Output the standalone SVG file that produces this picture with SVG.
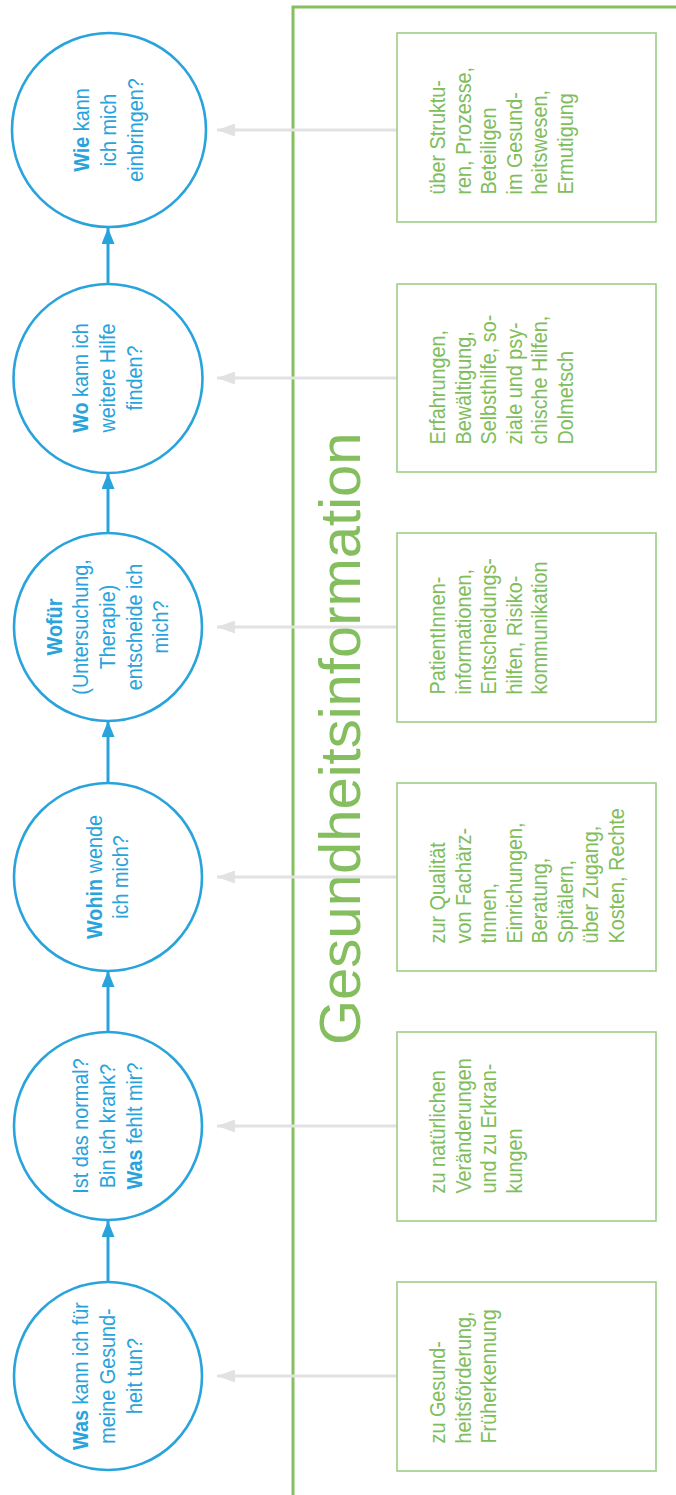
<svg xmlns="http://www.w3.org/2000/svg" width="676" height="1495" viewBox="0 0 676 1495">
<style>
.c{fill:#fff;stroke:#29a3dc;stroke-width:2.6}
.ct{font-family:"Liberation Sans",Arial,sans-serif;font-size:19.8px;fill:#29a3dc;text-anchor:middle}
.b{font-weight:bold}
.bx{fill:#fff;stroke:#9dcf86;stroke-width:1.6}
.bt{font-family:"Liberation Sans",Arial,sans-serif;font-size:19.8px;fill:#80bd5c}
.fl{stroke:#29a3dc;stroke-width:3;fill:none}
.gl{stroke:#e2e2e2;stroke-width:3;fill:none}
.title{font-family:"Liberation Sans",Arial,sans-serif;font-size:58px;fill:#84be5e}
</style>
<defs>
<marker id="ab" markerUnits="userSpaceOnUse" viewBox="0 0 16 13" refX="16" refY="6.5" markerWidth="16" markerHeight="13" orient="auto"><path d="M0,0 L16,6.5 L0,13 z" fill="#29a3dc"/></marker>
<marker id="ag" markerUnits="userSpaceOnUse" viewBox="0 0 18 13" refX="18" refY="6.5" markerWidth="18" markerHeight="13" orient="auto"><path d="M0,0 L18,6.5 L0,13 z" fill="#e2e2e2"/></marker>
</defs>
<rect width="676" height="1495" fill="#fff"/>

<g id="frame">
<path d="M293,1495 V7 H676" fill="none" stroke="#86bf5f" stroke-width="3"/>
</g>
<g id="title">
<text class="title" transform="translate(360,1045) rotate(-90)">Gesundheitsinformation</text>
</g>

<g id="connectors">
<line class="fl" x1="108" y1="1282" x2="108" y2="1221" marker-end="url(#ab)"/>
<line class="fl" x1="108" y1="1032" x2="108" y2="971" marker-end="url(#ab)"/>
<line class="fl" x1="108" y1="783" x2="108" y2="721" marker-end="url(#ab)"/>
<line class="fl" x1="108" y1="533" x2="108" y2="473" marker-end="url(#ab)"/>
<line class="fl" x1="108" y1="284" x2="108" y2="228" marker-end="url(#ab)"/>
<line class="gl" x1="397" y1="1376" x2="217" y2="1376" marker-end="url(#ag)"/>
<line class="gl" x1="397" y1="1126" x2="217" y2="1126" marker-end="url(#ag)"/>
<line class="gl" x1="397" y1="877" x2="217" y2="877" marker-end="url(#ag)"/>
<line class="gl" x1="397" y1="627" x2="217" y2="627" marker-end="url(#ag)"/>
<line class="gl" x1="397" y1="378" x2="217" y2="378" marker-end="url(#ag)"/>
<line class="gl" x1="397" y1="130" x2="217" y2="130" marker-end="url(#ag)"/>
</g>

<g id="q1">
<circle class="c" cx="108" cy="1376" r="94"/>
<text class="ct" transform="translate(88.3,1376) rotate(-90) scale(1,1.15)"><tspan class="b">Was</tspan> kann ich für</text>
<text class="ct" transform="translate(115,1376) rotate(-90) scale(1,1.15)">meine Gesund-</text>
<text class="ct" transform="translate(141.7,1376) rotate(-90) scale(1,1.15)">heit tun?</text>
</g>
<g id="q2">
<circle class="c" cx="108" cy="1126" r="94"/>
<text class="ct" transform="translate(88.3,1126) rotate(-90) scale(1,1.15)">Ist das normal?</text>
<text class="ct" transform="translate(115,1126) rotate(-90) scale(1,1.15)">Bin ich krank?</text>
<text class="ct" transform="translate(141.7,1126) rotate(-90) scale(1,1.15)"><tspan class="b">Was</tspan> fehlt mir?</text>
</g>
<g id="q3">
<circle class="c" cx="108" cy="877" r="94"/>
<text class="ct" transform="translate(101.6,877) rotate(-90) scale(1,1.15)"><tspan class="b">Wohin</tspan> wende</text>
<text class="ct" transform="translate(128.3,877) rotate(-90) scale(1,1.15)">ich mich?</text>
</g>
<g id="q4">
<circle class="c" cx="108" cy="627" r="94"/>
<text class="ct b" transform="translate(61.6,627) rotate(-90) scale(1,1.15)">Wofür</text>
<text class="ct" transform="translate(88.3,627) rotate(-90) scale(1,1.15)">(Untersuchung,</text>
<text class="ct" transform="translate(115,627) rotate(-90) scale(1,1.15)">Therapie)</text>
<text class="ct" transform="translate(141.7,627) rotate(-90) scale(1,1.15)">entscheide ich</text>
<text class="ct" transform="translate(168.4,627) rotate(-90) scale(1,1.15)">mich?</text>
</g>
<g id="q5">
<circle class="c" cx="108" cy="378.5" r="94.5"/>
<text class="ct" transform="translate(88.3,378) rotate(-90) scale(1,1.15)"><tspan class="b">Wo</tspan> kann ich</text>
<text class="ct" transform="translate(115,378) rotate(-90) scale(1,1.15)">weitere Hilfe</text>
<text class="ct" transform="translate(141.7,378) rotate(-90) scale(1,1.15)">finden?</text>
</g>
<g id="q6">
<circle class="c" cx="109" cy="130" r="97"/>
<text class="ct" transform="translate(89.3,130) rotate(-90) scale(1,1.15)"><tspan class="b">Wie</tspan> kann</text>
<text class="ct" transform="translate(116,130) rotate(-90) scale(1,1.15)">ich mich</text>
<text class="ct" transform="translate(142.7,130) rotate(-90) scale(1,1.15)">einbringen?</text>
</g>

<g id="info1">
<rect class="bx" x="397" y="1282" width="259" height="189"/>
<text class="bt" transform="translate(445,1443.5) rotate(-90) scale(1,1.15)">zu Gesund-</text>
<text class="bt" transform="translate(470.5,1443.5) rotate(-90) scale(1,1.15)">heitsförderung,</text>
<text class="bt" transform="translate(496,1443.5) rotate(-90) scale(1,1.15)">Früherkennung</text>
</g>
<g id="info2">
<rect class="bx" x="397" y="1032" width="259" height="189"/>
<text class="bt" transform="translate(445,1193.5) rotate(-90) scale(1,1.15)">zu natürlichen</text>
<text class="bt" transform="translate(470.5,1193.5) rotate(-90) scale(1,1.15)">Veränderungen</text>
<text class="bt" transform="translate(496,1193.5) rotate(-90) scale(1,1.15)">und zu Erkran-</text>
<text class="bt" transform="translate(521.5,1193.5) rotate(-90) scale(1,1.15)">kungen</text>
</g>
<g id="info3">
<rect class="bx" x="397" y="783" width="259" height="188"/>
<text class="bt" transform="translate(445,943.5) rotate(-90) scale(1,1.15)">zur Qualität</text>
<text class="bt" transform="translate(470.5,943.5) rotate(-90) scale(1,1.15)">von Fachärz-</text>
<text class="bt" transform="translate(496,943.5) rotate(-90) scale(1,1.15)">tInnen,</text>
<text class="bt" transform="translate(521.5,943.5) rotate(-90) scale(1,1.15)">Einrichungen,</text>
<text class="bt" transform="translate(547,943.5) rotate(-90) scale(1,1.15)">Beratung,</text>
<text class="bt" transform="translate(572.5,943.5) rotate(-90) scale(1,1.15)">Spitälern,</text>
<text class="bt" transform="translate(598,943.5) rotate(-90) scale(1,1.15)">über Zugang,</text>
<text class="bt" transform="translate(623.5,943.5) rotate(-90) scale(1,1.15)">Kosten, Rechte</text>
</g>
<g id="info4">
<rect class="bx" x="397" y="533" width="259" height="189"/>
<text class="bt" transform="translate(445,694.5) rotate(-90) scale(1,1.15)">PatientInnen-</text>
<text class="bt" transform="translate(470.5,694.5) rotate(-90) scale(1,1.15)">informationen,</text>
<text class="bt" transform="translate(496,694.5) rotate(-90) scale(1,1.15)">Entscheidungs-</text>
<text class="bt" transform="translate(521.5,694.5) rotate(-90) scale(1,1.15)">hilfen, Risiko-</text>
<text class="bt" transform="translate(547,694.5) rotate(-90) scale(1,1.15)">kommunikation</text>
</g>
<g id="info5">
<rect class="bx" x="397" y="284" width="259" height="188"/>
<text class="bt" transform="translate(445,444.5) rotate(-90) scale(1,1.15)">Erfahrungen,</text>
<text class="bt" transform="translate(470.5,444.5) rotate(-90) scale(1,1.15)">Bewältigung,</text>
<text class="bt" transform="translate(496,444.5) rotate(-90) scale(1,1.15)">Selbsthilfe, so-</text>
<text class="bt" transform="translate(521.5,444.5) rotate(-90) scale(1,1.15)">ziale und psy-</text>
<text class="bt" transform="translate(547,444.5) rotate(-90) scale(1,1.15)">chische Hilfen,</text>
<text class="bt" transform="translate(572.5,444.5) rotate(-90) scale(1,1.15)">Dolmetsch</text>
</g>
<g id="info6">
<rect class="bx" x="397" y="33" width="259" height="189"/>
<text class="bt" transform="translate(445,194.5) rotate(-90) scale(1,1.15)">über Struktu-</text>
<text class="bt" transform="translate(470.5,194.5) rotate(-90) scale(1,1.15)">ren, Prozesse,</text>
<text class="bt" transform="translate(496,194.5) rotate(-90) scale(1,1.15)">Beteiligen</text>
<text class="bt" transform="translate(521.5,194.5) rotate(-90) scale(1,1.15)">im Gesund-</text>
<text class="bt" transform="translate(547,194.5) rotate(-90) scale(1,1.15)">heitswesen,</text>
<text class="bt" transform="translate(572.5,194.5) rotate(-90) scale(1,1.15)">Ermutigung</text>
</g>
</svg>
